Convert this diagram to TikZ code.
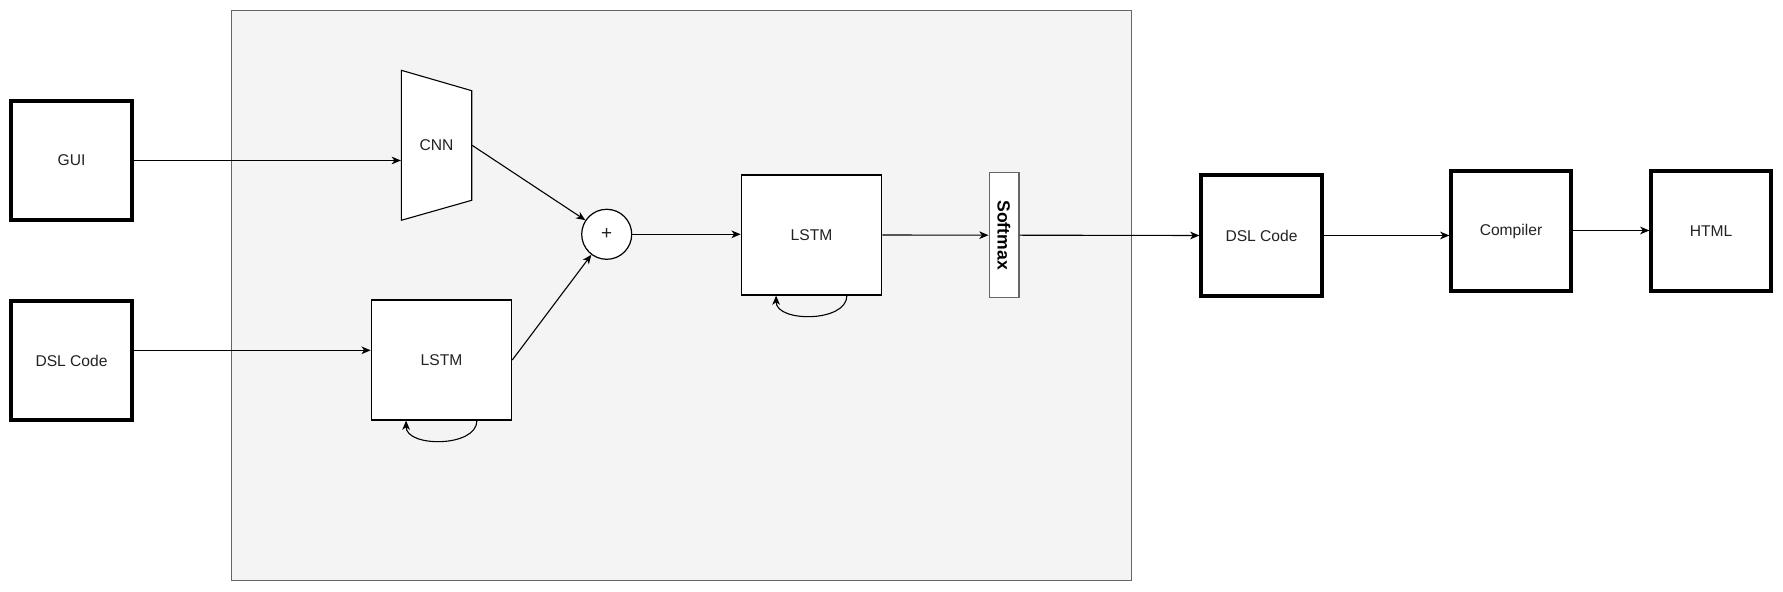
\documentclass[tikz,border=0pt]{standalone}
\usepackage{fontspec}
\setmainfont{Liberation Sans}
\usetikzlibrary{arrows.meta,calc}
\definecolor{panelfill}{HTML}{F4F4F4}
\definecolor{panelline}{HTML}{666666}
\definecolor{txt}{HTML}{222222}
\begin{document}
\begin{tikzpicture}[x=0.5pt,y=-0.5pt,
  every node/.style={font=\fontsize{7.8}{9}\selectfont, text=txt},
  arr/.style={draw=black, line width=0.55pt, -{Stealth[length=4.6pt,width=3.8pt,inset=1.3pt]}},
  thinline/.style={draw=black, line width=0.55pt},
  ioblock/.style={draw=black, fill=white, line width=1.6pt, inner sep=0pt},
  lstmblock/.style={draw=black, fill=white, line width=0.6pt, inner sep=0pt, minimum width=70.2pt, minimum height=60pt}
]
\useasboundingbox (0,0) rectangle (1783,592);
\fill[white] (0,0) rectangle (1783,592);

% panel
\filldraw[fill=panelfill, draw=panelline, line width=0.6pt] (231.3,10.3) rectangle (1131.7,580.3);

% input blocks
\node[ioblock, minimum width=60.5pt, minimum height=59.5pt] (gui) at (71.5,160.5) {GUI};
\node[ioblock, minimum width=60.5pt, minimum height=59.5pt] (dslin) at (71.5,360.5) {DSL Code};

% CNN trapezoid
\filldraw[thinline, fill=white] (401.3,70.3) -- (471.7,90.7) -- (471.7,200.3) -- (401.3,220.3) -- cycle;
\node[inner sep=0pt, minimum width=35.2pt, minimum height=75pt] (cnn) at (436.5,145.3) {CNN};

% plus
\node[circle, draw=black, fill=white, line width=0.6pt, minimum size=25pt, inner sep=0pt, font=\fontsize{9.5}{10}\selectfont] (plus) at (606.7,234.3) {+};

% LSTMs
\node[lstmblock] (lstma) at (441.5,360) {LSTM};
\node[lstmblock] (lstmb) at (811.5,235) {LSTM};

% softmax
\node[draw=panelline, fill=white, line width=0.8pt, minimum width=14.7pt, minimum height=62.5pt, inner sep=0pt] (soft) at (1004,235.2) {};
\node[rotate=-90, font=\fontsize{8.8}{10}\selectfont\bfseries, text=black] (softlbl) at (soft.center) {Softmax};

% output blocks
\node[ioblock, minimum width=60.5pt, minimum height=60.5pt] (dslout) at (1261.5,235.5) {DSL Code};
\node[ioblock, minimum width=60pt, minimum height=60pt] (comp) at (1511,231) {Compiler};
\node[ioblock, minimum width=60pt, minimum height=60pt] (html) at (1711,231) {HTML};

% connectors
\draw[arr] (gui.east) -- (gui.east -| cnn.west);
\draw[arr] (dslin.east |- 0,350.3) -- (lstma.west |- 0,350.3);
\draw[arr] (cnn.east) -- (plus);
\draw[arr] (lstma.east) -- (plus);
\draw[arr] (plus.east) -- (plus.east -| lstmb.west);
\draw[arr] (lstmb.east) -- (soft.west);
\draw[arr] (soft.east) -- (dslout.west);
\draw[arr] (dslout.east) -- (dslout.east -| comp.west);
\draw[arr] (comp.east |- 0,230.5) -- (html.west |- 0,230.5);

% recurrent loops
\draw[arr] ($(lstma.south west)!0.75!(lstma.south east)$) .. controls +(0,27) and +(0,27) .. ($(lstma.south west)!0.25!(lstma.south east)$);
\draw[arr] ($(lstmb.south west)!0.75!(lstmb.south east)$) .. controls +(0,27) and +(0,27) .. ($(lstmb.south west)!0.25!(lstmb.south east)$);
\end{tikzpicture}
\end{document}
